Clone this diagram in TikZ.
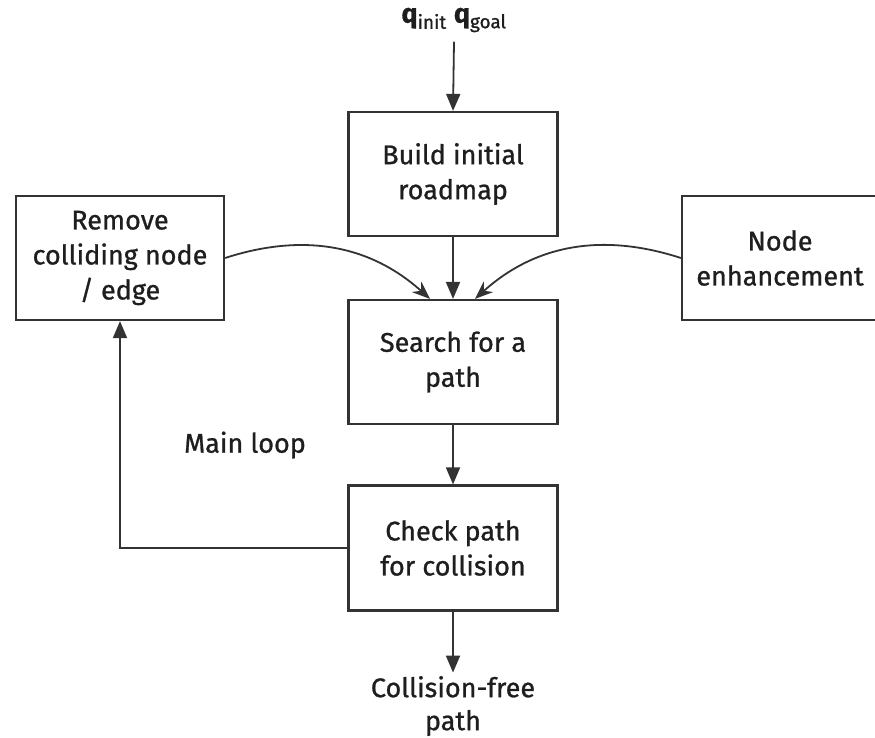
\documentclass[tikz,border=0pt]{standalone}
\usepackage{fontspec}
\setmainfont{Fira Sans}[RawFeature={embolden=0.9}]
\usetikzlibrary{arrows.meta,calc}
\definecolor{ln}{HTML}{333333}
\definecolor{tx}{HTML}{1E1E1E}
\begin{document}
\begin{tikzpicture}[x=1pt,y=-1pt,
  box/.style={draw=ln,line width=2.2pt,fill=white,minimum width=209pt,minimum height=124pt,align=center,inner sep=0pt,text=tx,font=\fontsize{27}{35}\selectfont},
  lbl/.style={align=center,text=tx,font=\fontsize{27}{33}\selectfont},
  arr/.style={draw=ln,line width=1.8pt,-{Triangle[length=17pt,width=14pt]}},
  carr/.style={draw=ln,line width=1.8pt,-{Stealth[length=18pt,width=14pt]}}]
\useasboundingbox (0,0) rectangle (875,737);
\fill[white] (0,0) rectangle (875,737);
\node[lbl] (q) at (454,20) {\textbf{q}\textsubscript{init} \textbf{q}\textsubscript{goal}};
\node[box] (build) at (453,174) {Build initial\\roadmap};
\node[box,minimum width=208pt] (remove) at (120,258) {Remove\\colliding node\\/ edge};
\node[box,minimum width=196pt] (enh) at (780,258) {Node\\enhancement};
\node[box] (search) at (453,362) {Search for a\\path};
\node[box,minimum height=125pt] (check) at (453,548) {Check path\\for collision};
\node[lbl] (out) at (453,706) {Collision-free\\path};
\node[lbl] (loop) at (245,445) {Main loop};
\coordinate (sl) at ($(search.north)+(-23,0)$);
\coordinate (sr) at ($(search.north)+(22,0)$);
\coordinate (corner) at (120,548);
\draw[arr] (q.south) ++(0,6) -- (build.north);
\draw[arr] (build.south) -- (search.north);
\draw[carr] (remove.east) to[out=18,in=138] (sl);
\draw[carr] (enh.west) to[out=162,in=42] (sr);
\draw[arr] (search.south) -- (check.north);
\draw[arr] (check.west) -- (corner) -- (remove.south);
\draw[arr] (check.south) -- (out.north);
\end{tikzpicture}
\end{document}
